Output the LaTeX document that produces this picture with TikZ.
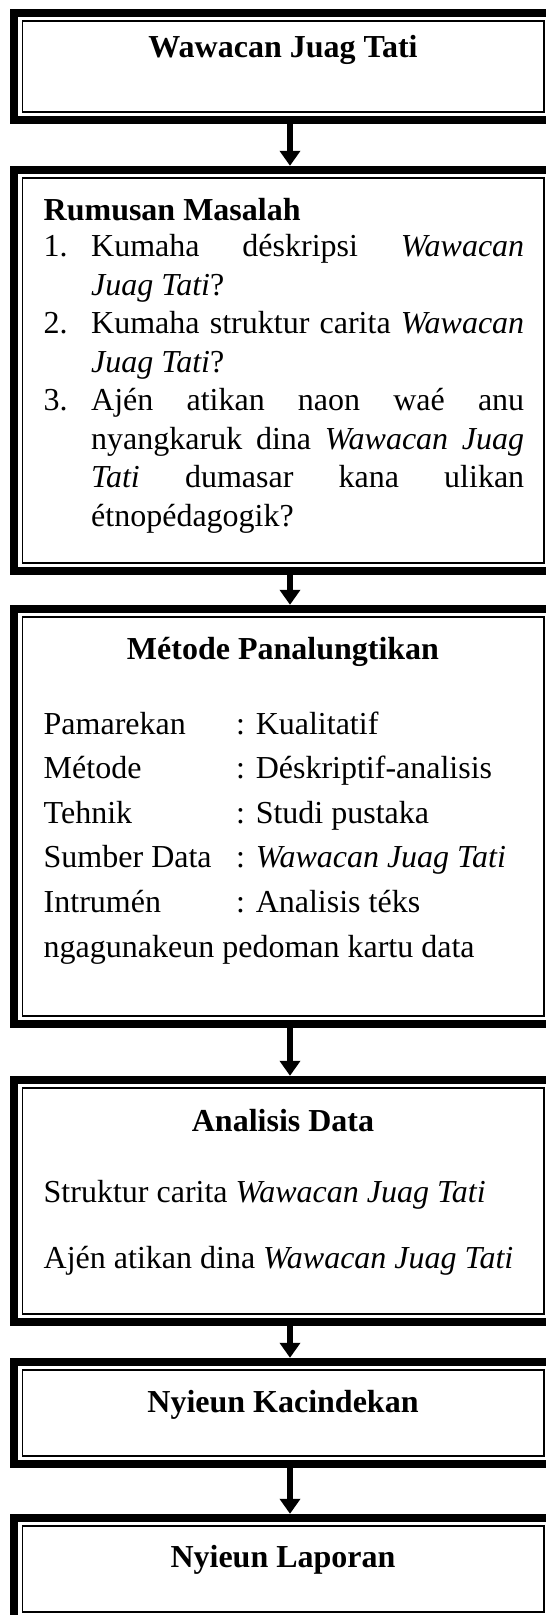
\documentclass[tikz,border=0pt]{standalone}
\usepackage{fontspec}
\setmainfont{Liberation Serif}
\usetikzlibrary{arrows.meta}
\tikzset{
  boxn/.style={rectangle, minimum width=545pt, inner sep=0pt, draw=none},
  band/.style={line width=8pt},
  thinline/.style={line width=1.6pt},
  arr/.style={line width=6.5pt, -{Triangle[width=20pt,length=15pt]}},
  txt/.style={anchor=base west, inner sep=0pt, font=\fontsize{32}{38}\selectfont},
  ttl/.style={anchor=base, inner sep=0pt, font=\fontsize{32}{38}\selectfont\bfseries},
}
\newcommand\dframe[1]{%
  \draw[band] ([shift={(4pt,-4pt)}]#1.north west) rectangle ([shift={(-4pt,4pt)}]#1.south east);
  \draw[thinline] ([shift={(12pt,-12pt)}]#1.north west) rectangle ([shift={(-12pt,12pt)}]#1.south east);}
\begin{document}
\begin{tikzpicture}[x=1pt,y=-1pt]
\useasboundingbox (0,0) rectangle (546,1615);
\clip (0,0) rectangle (546,1615);
\fill[white] (0,0) rectangle (546,1615);

% boxes (outer edges)
\node[boxn, minimum height=115pt] (b1) at (283, 66.5) {};
\node[boxn, minimum height=409pt] (b2) at (283, 370.5) {};
\node[boxn, minimum height=423pt] (b3) at (283, 816.5) {};
\node[boxn, minimum height=250pt] (b4) at (283, 1201) {};
\node[boxn, minimum height=110pt] (b5) at (283, 1413) {};
\node[boxn, minimum height=110pt] (b6) at (283, 1569) {};
\dframe{b1}\dframe{b2}\dframe{b3}\dframe{b4}\dframe{b5}\dframe{b6}

% connectors
\draw[arr] ([xshift=7pt]b1.south) -- ([xshift=7pt]b2.north);
\draw[arr] ([xshift=7pt]b2.south) -- ([xshift=7pt]b3.north);
\draw[arr] ([xshift=7pt]b3.south) -- ([xshift=7pt]b4.north);
\draw[arr] ([xshift=7pt]b4.south) -- ([xshift=7pt]b5.north);
\draw[arr] ([xshift=7pt]b5.south) -- ([xshift=7pt]b6.north);

% box 1
\node[ttl] (t1) at (283, 57) {Wawacan Juag Tati};

% box 2
\node[txt, font=\fontsize{32}{38}\selectfont\bfseries] (t2) at (43.5, 220.5) {Rumusan Masalah};
\node[txt] (n1) at (43.5, 256.5) {1.};
\node[txt] (l1) at (91, 256.5) {\makebox[433pt][s]{Kumaha déskripsi \textit{Wawacan}}};
\node[txt] (l2) at (91, 295) {\textit{Juag Tati}?};
\node[txt] (n2) at (43.5, 333.5) {2.};
\node[txt] (l3) at (91, 333.5) {\makebox[433pt][s]{Kumaha struktur carita \textit{Wawacan}}};
\node[txt] (l4) at (91, 372) {\textit{Juag Tati}?};
\node[txt] (n3) at (43.5, 410.5) {3.};
\node[txt] (l5) at (91, 410.5) {\makebox[433pt][s]{Ajén atikan naon waé anu}};
\node[txt] (l6) at (91, 449) {\makebox[433pt][s]{nyangkaruk dina \textit{Wawacan Juag}}};
\node[txt] (l7) at (91, 487.5) {\makebox[433pt][s]{\textit{Tati} dumasar kana ulikan}};
\node[txt] (l8) at (91, 526) {étnopédagogik?};

% box 3
\node[ttl] (t3) at (283, 659) {Métode Panalungtikan};
\node[txt] (k1) at (43.5, 734) {Pamarekan};
\node[txt] (v1) at (236, 734) {: Kualitatif};
\node[txt] (k2) at (43.5, 778.6) {Métode};
\node[txt] (v2) at (236, 778.6) {: Déskriptif-analisis};
\node[txt] (k3) at (43.5, 823.2) {Tehnik};
\node[txt] (v3) at (236, 823.2) {: Studi pustaka};
\node[txt] (k4) at (43.5, 867.8) {Sumber Data};
\node[txt] (v4) at (236, 867.8) {: \textit{Wawacan Juag Tati}};
\node[txt] (k5) at (43.5, 912.4) {Intrumén};
\node[txt] (v5) at (236, 912.4) {: Analisis téks};
\node[txt] (k6) at (43.5, 957) {ngagunakeun pedoman kartu data};

% box 4
\node[ttl] (t4) at (283, 1131) {Analisis Data};
\node[txt] (a1) at (43.5, 1202) {Struktur carita \textit{Wawacan Juag Tati}};
\node[txt] (a2) at (43.5, 1268) {Ajén atikan dina \textit{Wawacan Juag Tati}};

% box 5, 6
\node[ttl] (t5) at (283, 1412) {Nyieun Kacindekan};
\node[ttl] (t6) at (283, 1567) {Nyieun Laporan};
\end{tikzpicture}
\end{document}
